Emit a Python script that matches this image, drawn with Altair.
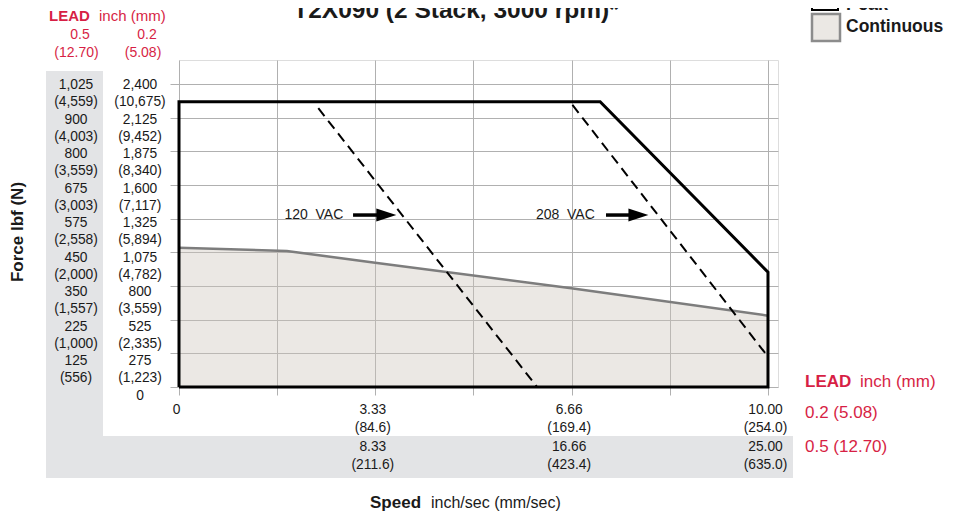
import altair as alt
import pandas as pd

# ---------------- data ----------------
# Peak outline (speed in/s, force lbf) for 0.2 in lead
peak_speed = [0, 0, 7.15, 10, 10, 0]
peak_force = [0, 2260, 2260, 910, 0, 0]

# Continuous curve
cont_speed = [0, 1.83, 3.33, 6.66, 10]
cont_force = [1103, 1077, 985, 782, 565]

# Voltage limit (dashed) lines
v120_speed = [2.365, 6.08]
v120_force = [2208, 0]
v208_speed = [6.68, 10]
v208_force = [2234, 240]

# Voltage annotations
vac_labels = ["120 \u00a0VAC", "208 \u00a0VAC"]
vac_text_speed = [2.79, 7.06]
vac_shaft_start = [2.955, 7.25]
vac_shaft_end = [3.42, 7.66]
vac_head_speed = [3.52, 7.80]
vac_force = [1362, 1362]

# grid / ticks
grid_speed = [0, 1.667, 3.333, 5.0, 6.667, 8.333, 10.0]
grid_force = [2400, 2133.3, 1866.7, 1600, 1333.3, 1066.7, 800, 533.3, 266.7, 0]

# y tick labels (two leads)
lbf_02 = ["2,400", "2,125", "1,875", "1,600", "1,325", "1,075", "800", "525", "275", "0"]
n_02 = ["(10,675)", "(9,452)", "(8,340)", "(7,117)", "(5,894)", "(4,782)", "(3,559)", "(2,335)", "(1,223)", ""]
lbf_05 = ["1,025", "900", "800", "675", "575", "450", "350", "225", "125", ""]
n_05 = ["(4,559)", "(4,003)", "(3,559)", "(3,003)", "(2,558)", "(2,000)", "(1,557)", "(1,000)", "(556)", ""]

# x tick labels (two leads)
xlab_speed = [0, 3.333, 6.667, 10.0]
ips_02 = ["0", "3.33", "6.66", "10.00"]
mms_02 = ["", "(84.6)", "(169.4)", "(254.0)"]
ips_05 = ["", "8.33", "16.66", "25.00"]
mms_05 = ["", "(211.6)", "(423.4)", "(635.0)"]

RED = "#d71f45"
FONT = "Liberation Sans"
GRID = "#b0b0b0"
INK = "#1a1a1a"

# ---------------- scales / encodings ----------------
xs = alt.Scale(domain=[0, 10.17], nice=False, zero=False)
ys = alt.Scale(domain=[0, 2590], nice=False, zero=False)
x_axis = alt.Axis(values=grid_speed, labels=False, title=None, domain=False, grid=True,
                  gridColor=GRID, gridWidth=1, tickColor=GRID, tickSize=8, tickWidth=1)
y_axis = alt.Axis(values=grid_force, labels=False, title=None, domain=False, grid=True,
                  gridColor=GRID, gridWidth=1, tickColor=GRID, tickSize=9, tickWidth=1)


def X(field):
    return alt.X(f"{field}:Q", scale=xs, axis=x_axis)


def Y(field):
    return alt.Y(f"{field}:Q", scale=ys, axis=y_axis)


one = pd.DataFrame({"k": [0]})

peak_df = pd.DataFrame({"speed": peak_speed, "force": peak_force, "i": list(range(len(peak_speed)))})
cont_df = pd.DataFrame({"speed": cont_speed, "force": cont_force})
v120_df = pd.DataFrame({"speed": v120_speed, "force": v120_force})
v208_df = pd.DataFrame({"speed": v208_speed, "force": v208_force})
vac_df = pd.DataFrame({"label": vac_labels, "speed": vac_text_speed, "s0": vac_shaft_start,
                       "s1": vac_shaft_end, "head": vac_head_speed, "force": vac_force})
ylab_df = pd.DataFrame({"force": grid_force, "lbf_02": lbf_02, "n_02": n_02,
                        "lbf_05": lbf_05, "n_05": n_05})
xlab_df = pd.DataFrame({"speed": xlab_speed, "ips_02": ips_02, "mms_02": mms_02,
                        "ips_05": ips_05, "mms_05": mms_05})

layers = []

# gray label backgrounds
layers.append(alt.Chart(one).mark_rect(color="#e3e4e6").encode(
    x=alt.value(-133), x2=alt.value(-76), y=alt.value(11), y2=alt.value(418)))
layers.append(alt.Chart(one).mark_rect(color="#e3e4e6").encode(
    x=alt.value(-133), x2=alt.value(614), y=alt.value(376), y2=alt.value(418)))

# continuous area + line
layers.append(alt.Chart(cont_df).mark_area(color="#cdc5bb", opacity=0.4).encode(
    x=X("speed"), y=Y("force")))
layers.append(alt.Chart(cont_df).mark_line(color="#7d7d7d", strokeWidth=2.5).encode(
    x=X("speed"), y=Y("force")))

# dashed voltage lines
for d in (v120_df, v208_df):
    layers.append(alt.Chart(d).mark_line(color="black", strokeWidth=2, strokeDash=[10, 6]).encode(
        x=X("speed"), y=Y("force")))

# peak outline
layers.append(alt.Chart(peak_df).mark_line(color="black", strokeWidth=3, strokeJoin="miter").encode(
    x=X("speed"), y=Y("force"), order=alt.Order("i:Q")))

# voltage annotations
layers.append(alt.Chart(vac_df).mark_text(align="right", baseline="middle", fontSize=14, font=FONT,
                                          color=INK).encode(
    x=X("speed"), y=Y("force"), text="label:N"))
layers.append(alt.Chart(vac_df).mark_rule(color="black", strokeWidth=3.5).encode(
    x=X("s0"), x2="s1:Q", y=Y("force")))
layers.append(alt.Chart(vac_df).mark_point(shape="M-1,-0.65L1,0L-1,0.65Z", filled=True, size=400,
                                           color="black", opacity=1).encode(
    x=X("head"), y=Y("force")))

# y tick labels (slight downward drift of the label stack, as in the original layout)
for col, xpos, dy in (("lbf_02", -39, 1), ("n_02", -39, 18), ("lbf_05", -103, 1), ("n_05", -103, 18)):
    layers.append(alt.Chart(ylab_df).transform_calculate(
        ly="datum.force - (2400 - datum.force) * 0.025"
    ).mark_text(align="center", baseline="middle", fontSize=13.8,
                font=FONT, color=INK, dy=dy).encode(
        x=alt.value(xpos), y=Y("ly"), text=f"{col}:N"))

# x tick labels
for col, ypos in (("ips_02", 350), ("mms_02", 368), ("ips_05", 387), ("mms_05", 405)):
    layers.append(alt.Chart(xlab_df).mark_text(align="center", baseline="middle", fontSize=13.8,
                                               font=FONT, color=INK, dx=-2.5).encode(
        x=X("speed"), y=alt.value(ypos), text=f"{col}:N"))


def txt(text, x, y, size, bold=False, color=INK, align="left", baseline="middle", angle=0):
    kw = dict(align=align, baseline=baseline, fontSize=size, font=FONT, color=color,
              fontWeight="bold" if bold else "normal", text=text)
    if angle:
        kw["angle"] = angle
    return alt.Chart(one).mark_text(**kw).encode(x=alt.value(x), y=alt.value(y))


# top-left LEAD header
layers += [
    txt("LEAD", -130, -44, 15, bold=True, color=RED),
    txt("inch (mm)", -80, -44, 15, color=RED),
    txt("0.5", -99, -25, 14, color=RED, align="center"),
    txt("(12.70)", -102.5, -7, 14, color=RED, align="center"),
    txt("0.2", -32, -25, 14, color=RED, align="center"),
    txt("(5.08)", -36, -7, 14, color=RED, align="center"),
]

# right LEAD legend
layers += [
    txt("LEAD", 626, 322, 17, bold=True, color=RED),
    txt("inch (mm)", 681, 322, 17, color=RED),
    txt("0.2 (5.08)", 626, 353, 17, color=RED),
    txt("0.5 (12.70)", 626, 387, 17, color=RED),
]

# title and axis titles
layers += [
    txt("T2X090 (2 Stack, 3000 rpm)*", 277, -42, 24.5, bold=True, align="center", baseline="alphabetic"),
    txt("Force lbf (N)", -161, 172, 17, bold=True, align="center", angle=270),
    txt("Speed", 191, 448, 17, bold=True, baseline="alphabetic"),
    txt("inch/sec (mm/sec)", 252, 448, 16, baseline="alphabetic"),
]

# legend (Peak / Continuous)
layers.append(alt.Chart(one).mark_rect(fill="white", stroke="black", strokeWidth=2).encode(
    x=alt.value(633), x2=alt.value(659), y=alt.value(-72), y2=alt.value(-50)))
layers.append(alt.Chart(one).mark_rect(fill="#ebe8e4", stroke="#8c8c8c", strokeWidth=2.5).encode(
    x=alt.value(633), x2=alt.value(661), y=alt.value(-46), y2=alt.value(-19)))
layers += [
    txt("Peak", 667, -55, 18, bold=True),
    txt("Continuous", 667, -33, 17.5, bold=True),
]

chart = alt.layer(*layers).properties(
    width=599, height=327,
    autosize=alt.AutoSizeParams(type="none"),
    padding={"left": 171, "top": 52, "right": 169, "bottom": 124},
).configure_view(stroke=None).configure(font=FONT)

chart.save("out.html", embed_options={"renderer": "svg", "actions": False})
